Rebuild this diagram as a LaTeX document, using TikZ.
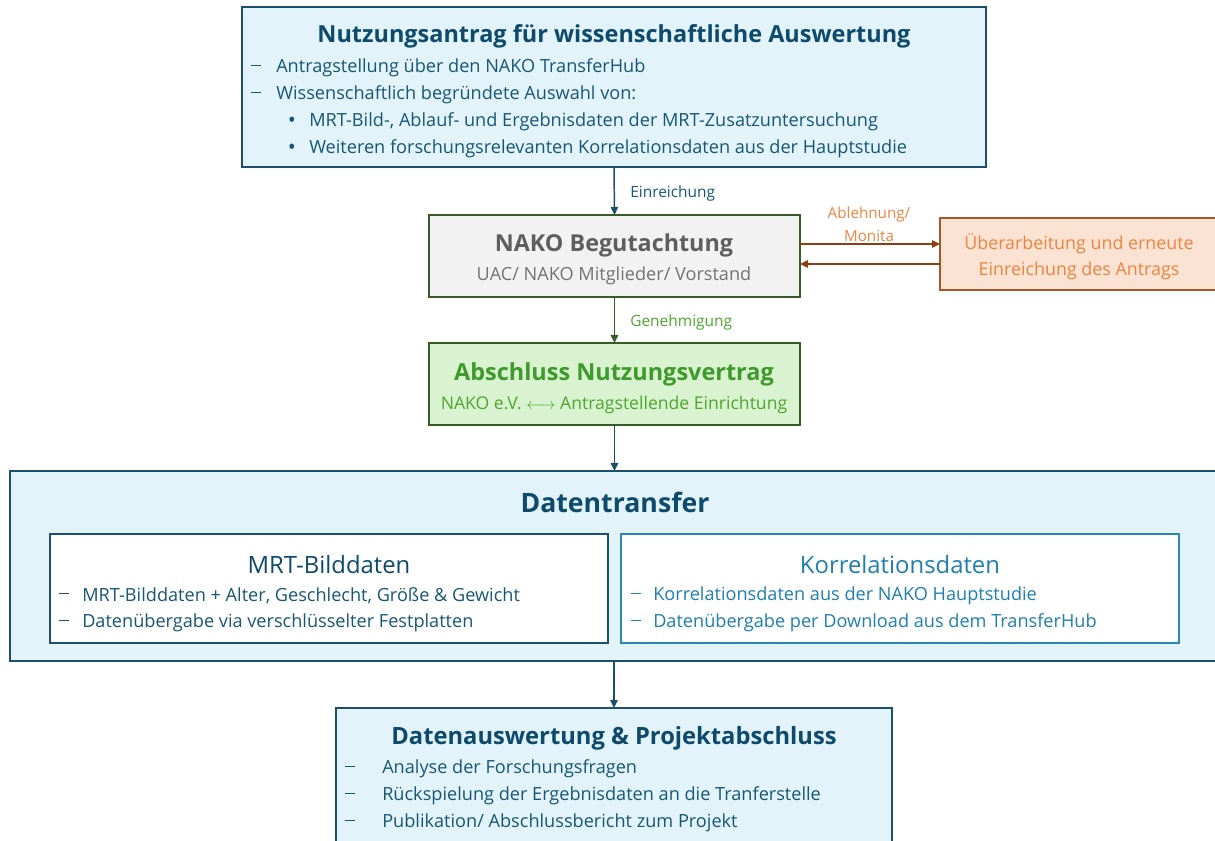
\documentclass[tikz,border=0pt]{standalone}
\usepackage{fontspec}
\setmainfont{Open Sans}
\usetikzlibrary{arrows.meta,calc}
\definecolor{dblue}{HTML}{0E4A6B}
\definecolor{tblue}{HTML}{175775}
\definecolor{bborder}{HTML}{1C4F6C}
\definecolor{lblue}{HTML}{E2F3FA}
\definecolor{kblue}{HTML}{1E7FB0}
\definecolor{kborder}{HTML}{2A86B8}
\definecolor{gfill}{HTML}{F2F2F2}
\definecolor{gtext}{HTML}{5E5E5E}
\definecolor{gtext2}{HTML}{737373}
\definecolor{dgreen}{HTML}{385C28}
\definecolor{grfill}{HTML}{D9F2D0}
\definecolor{grtitle}{HTML}{3E9A2C}
\definecolor{grtext}{HTML}{4EA72E}
\definecolor{ofill}{HTML}{FBE3D4}
\definecolor{oborder}{HTML}{A5572A}
\definecolor{otext}{HTML}{EE8440}
\definecolor{brown}{HTML}{8A3E12}
\newcommand{\mybox}[7]{\node[#6, minimum width={(#4-#2)*0.75pt}, minimum height={(#5-#3)*0.75pt}] (#1) at ({(#2+#4)/2},{(#3+#5)/2}) {#7};}
\newcommand{\dashmark}{\rule[0.28em]{8pt}{0.7pt}}
\begin{document}
\begin{tikzpicture}[x=0.75pt,y=-0.75pt,
  box/.style={draw, line width=1.2pt, inner sep=0pt, outer sep=0pt},
  arr/.style={line width=1.1pt, -{Triangle[length=6pt,width=5.5pt]}},
  txt/.style={inner sep=0pt, anchor=west, yshift=-1.6pt},
  ctr/.style={inner sep=0pt, anchor=center, yshift=-1.6pt},
  bt/.style={font=\fontsize{13.6}{16}\selectfont},
  bul/.style={inner sep=0pt, anchor=center, yshift=-1.6pt, font=\fontsize{16}{18}\selectfont},
  lab/.style={inner sep=0pt, anchor=west, yshift=-1.2pt, font=\fontsize{11.6}{13}\selectfont}]
\useasboundingbox (0,0) rectangle (1215,841);
\clip (0,0) rectangle (1215,841);
% boxes
\mybox{top}{242}{7}{986}{167}{box, draw=bborder, fill=lblue}{}
\mybox{beg}{429}{215}{800}{297}{box, draw=dgreen, fill=gfill}{}
\mybox{ueb}{940}{218}{1240}{290}{box, draw=oborder, fill=ofill}{}
\mybox{abs}{429}{343}{800}{425}{box, draw=dgreen, fill=grfill}{}
\mybox{dt}{10}{471}{1240}{661}{box, draw=bborder, fill=lblue}{}
\mybox{mrt}{50}{534}{608}{643}{box, draw=bborder, fill=white}{}
\mybox{kor}{621}{534}{1179}{643}{box, draw=kborder, fill=white}{}
\mybox{fin}{336}{708}{892}{870}{box, draw=bborder, fill=lblue}{}
% top text
\node[ctr, text=dblue, font=\fontsize{17.6}{20}\bfseries] (toptitle) at (614,34) {Nutzungsantrag für wissenschaftliche Auswertung};
\node[ctr, text=tblue, bt] (td1) at (256,66) {\dashmark};
\node[txt, text=tblue, bt] (t1) at (276,66) {Antragstellung über den NAKO TransferHub};
\node[ctr, text=tblue, bt] (td2) at (256,93) {\dashmark};
\node[txt, text=tblue, bt] (t2) at (276,93) {Wissenschaftlich begründete Auswahl von:};
\node[bul, text=tblue] (tb3) at (292,120) {•};
\node[txt, text=tblue, bt] (t3) at (309,120) {MRT-Bild-, Ablauf- und Ergebnisdaten der MRT-Zusatzuntersuchung};
\node[bul, text=tblue] (tb4) at (292,147) {•};
\node[txt, text=tblue, bt] (t4) at (309,147) {Weiteren forschungsrelevanten Korrelationsdaten aus der Hauptstudie};
% Begutachtung
\node[ctr, text=gtext, font=\fontsize{17.5}{20}\bfseries] (begt) at (614,243) {NAKO Begutachtung};
\node[ctr, text=gtext2, bt] (begs) at (614,274) {UAC/ NAKO Mitglieder/ Vorstand};
% Ueberarbeitung
\node[ctr, text=otext, font=\fontsize{13.4}{16}\selectfont] (ueb1) at (1079,242) {Überarbeitung und erneute};
\node[ctr, text=otext, font=\fontsize{13.4}{16}\selectfont] (ueb2) at (1079,269) {Einreichung des Antrags};
% Abschluss
\node[ctr, text=grtitle, font=\fontsize{17.6}{20}\bfseries] (abst) at (614,372) {Abschluss Nutzungsvertrag};
\node[ctr, text=grtext, font=\fontsize{13.2}{16}\selectfont] (abss) at (614,403) {NAKO e.V. $\longleftrightarrow$ Antragstellende Einrichtung};
% Datentransfer
\node[ctr, text=dblue, font=\fontsize{20}{23}\bfseries] (dtt) at (615,500) {Datentransfer};
\node[ctr, text=dblue, font=\fontsize{17.9}{20}\selectfont] (mrtt) at (329,562) {MRT-Bilddaten};
\node[ctr, text=tblue, bt] (md1) at (64,594) {\dashmark};
\node[txt, text=tblue, bt] (m1) at (82,594) {MRT-Bilddaten + Alter, Geschlecht, Größe \& Gewicht};
\node[ctr, text=tblue, bt] (md2) at (64,621) {\dashmark};
\node[txt, text=tblue, bt] (m2) at (82,621) {Datenübergabe via verschlüsselter Festplatten};
\node[ctr, text=kblue, font=\fontsize{17.9}{20}\selectfont] (kort) at (900,562) {Korrelationsdaten};
\node[ctr, text=kblue, bt] (kd1) at (636,594) {\dashmark};
\node[txt, text=kblue, bt] (k1) at (653,594) {Korrelationsdaten aus der NAKO Hauptstudie};
\node[ctr, text=kblue, bt] (kd2) at (636,621) {\dashmark};
\node[txt, text=kblue, bt] (k2) at (653,621) {Datenübergabe per Download aus dem TransferHub};
% Final
\node[ctr, text=dblue, font=\fontsize{17.8}{20}\bfseries] (fint) at (614,736) {Datenauswertung \& Projektabschluss};
\node[ctr, text=tblue, bt] (fd1) at (350,767) {\dashmark};
\node[txt, text=tblue, bt] (f1) at (382,767) {Analyse der Forschungsfragen};
\node[ctr, text=tblue, bt] (fd2) at (350,794) {\dashmark};
\node[txt, text=tblue, bt] (f2) at (382,794) {Rückspielung der Ergebnisdaten an die Tranferstelle};
\node[ctr, text=tblue, bt] (fd3) at (350,821) {\dashmark};
\node[txt, text=tblue, bt] (f3) at (382,821) {Publikation/ Abschlussbericht zum Projekt};
% connectors
\draw[arr, draw=bborder] (top.south) -- (beg.north);
\node[lab, text=tblue] (l1) at (630,192) {Einreichung};
\draw[arr, draw=dgreen] (beg.south) -- (abs.north);
\node[lab, text=grtext] (l2) at (630,321) {Genehmigung};
\draw[arr, draw=bborder] (abs.south) -- (abs.south |- dt.north);
\draw[arr, draw=bborder] (fin.north |- dt.south) -- (fin.north);
\draw[arr, draw=brown] ([yshift=9pt]beg.east) -- ([yshift=9pt]beg.east -| ueb.west);
\draw[arr, draw=brown] ([yshift=-6pt]beg.east -| ueb.west) -- ([yshift=-6pt]beg.east);
\node[ctr, text=otext, font=\fontsize{11.4}{13}\selectfont] (l3) at (869,212) {Ablehnung/};
\node[ctr, text=otext, font=\fontsize{11.4}{13}\selectfont] (l4) at (869,234) {Monita};
\end{tikzpicture}
\end{document}
